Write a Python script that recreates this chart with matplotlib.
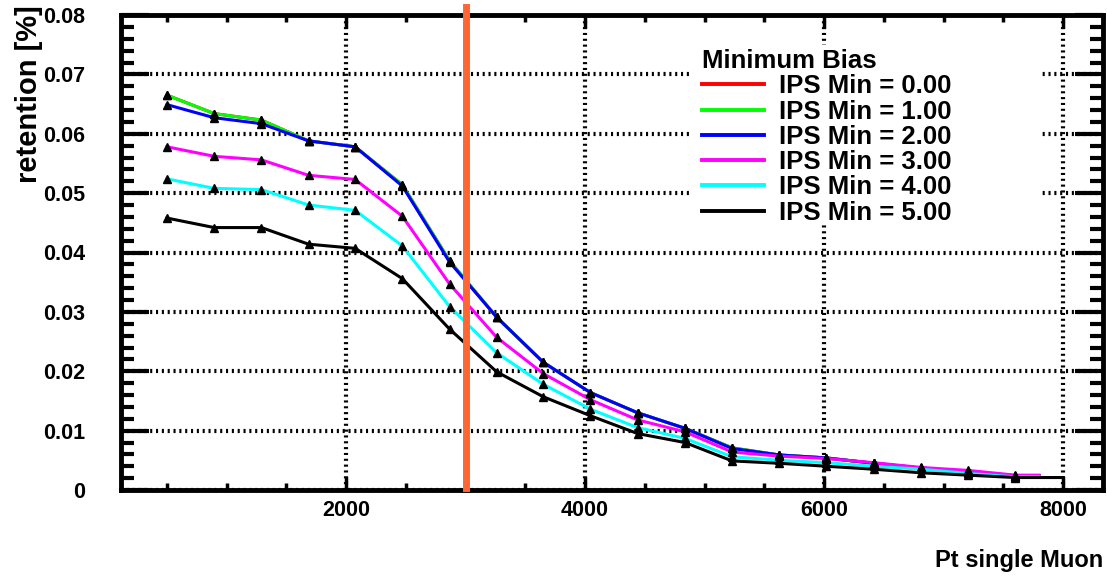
import matplotlib
matplotlib.use("Agg")
import matplotlib.pyplot as plt
from matplotlib.patches import Rectangle
from matplotlib.ticker import MultipleLocator

plt.rcParams['font.family'] = ['Liberation Sans', 'DejaVu Sans']
plt.rcParams['font.weight'] = 'bold'

# bin centres of the Pt scan
pt = [500, 895, 1290, 1685, 2075, 2470, 2865, 3260, 3650, 4045,
      4440, 4835, 5230, 5625, 6020, 6415, 6810, 7205, 7600]

ips_labels = ["IPS Min = 0.00", "IPS Min = 1.00", "IPS Min = 2.00",
              "IPS Min = 3.00", "IPS Min = 4.00", "IPS Min = 5.00"]
ips_colors = ["#ff0000", "#00ff00", "#0000ff", "#ff00ff", "#00ffff", "#000000"]

ips0 = [0.0665, 0.0634, 0.0623, 0.0588, 0.0578, 0.0514, 0.0386, 0.0291, 0.0215, 0.0164,
        0.0130, 0.0104, 0.0071, 0.0059, 0.0054, 0.0045, 0.0037, 0.0031, 0.0024]
ips1 = [0.0665, 0.0634, 0.0623, 0.0588, 0.0578, 0.0514, 0.0386, 0.0291, 0.0215, 0.0164,
        0.0130, 0.0104, 0.0071, 0.0059, 0.0054, 0.0045, 0.0037, 0.0031, 0.0024]
ips2 = [0.0649, 0.0627, 0.0617, 0.0588, 0.0578, 0.0512, 0.0384, 0.0291, 0.0215, 0.0164,
        0.0130, 0.0104, 0.0070, 0.0059, 0.0054, 0.0045, 0.0037, 0.0031, 0.0024]
ips3 = [0.0578, 0.0562, 0.0556, 0.0530, 0.0523, 0.0461, 0.0347, 0.0257, 0.0196, 0.0152,
        0.0118, 0.0098, 0.0064, 0.0057, 0.0053, 0.0046, 0.0038, 0.0033, 0.0025]
ips4 = [0.0524, 0.0508, 0.0506, 0.0480, 0.0471, 0.0411, 0.0309, 0.0231, 0.0178, 0.0136,
        0.0105, 0.0087, 0.0056, 0.0050, 0.0046, 0.0040, 0.0035, 0.0028, 0.0022]
ips5 = [0.0458, 0.0442, 0.0442, 0.0414, 0.0407, 0.0356, 0.0271, 0.0199, 0.0157, 0.0125,
        0.0095, 0.0080, 0.0049, 0.0045, 0.0040, 0.0035, 0.0029, 0.0025, 0.0021]
series = [ips0, ips1, ips2, ips3, ips4, ips5]

# where each curve stops on the right (last bin edge)
tail_end = [7800, 7800, 7800, 7800, 7800, 8000]

pt_cut = 3000

fig = plt.figure(figsize=(11.07, 5.79), dpi=100)
ax = fig.add_axes([121 / 1107, 1 - 490 / 579, (1103 - 121) / 1107, (490 - 15) / 579])

for vals, col, lab, xe in zip(series, ips_colors, ips_labels, tail_end):
    ax.plot(pt + [xe], vals + [vals[-1]], color=col, lw=2.2, label=lab, zorder=3)
    ax.plot(pt, vals, ls="none", marker="^", ms=6, color="black", zorder=4)

ax.axvline(pt_cut, ymin=0.004, ymax=1.016, color="#ff6633", lw=5, clip_on=False, zorder=10)

ax.set_xlim(115, 8335)
ax.set_ylim(0, 0.08)
ax.xaxis.set_major_locator(MultipleLocator(2000))
ax.xaxis.set_minor_locator(MultipleLocator(500))
ax.yaxis.set_major_locator(MultipleLocator(0.01))
ax.yaxis.set_minor_locator(MultipleLocator(0.002))
ax.set_yticks([0, 0.01, 0.02, 0.03, 0.04, 0.05, 0.06, 0.07, 0.08],
              ["0", "0.01", "0.02", "0.03", "0.04", "0.05", "0.06", "0.07", "0.08"])

ax.grid(True, which="major", color="black", lw=3, ls=(0, (0.5, 0.9)))

for s in ax.spines.values():
    s.set_linewidth(3.5)
    s.set_zorder(6)

ax.tick_params(axis="both", which="both", direction="in", top=True, right=True, color="black")
ax.tick_params(axis="y", which="major", length=20, width=3, pad=26, labelsize=15.5)
ax.tick_params(axis="y", which="minor", length=9.5, width=3)
ax.tick_params(axis="x", which="major", length=9.5, width=2.5, pad=7, labelsize=15.5)
ax.tick_params(axis="x", which="minor", length=5, width=2.5)

fig.text(29 / 1107, 1 - 5 / 579, "retention [%]", rotation=90, ha="center", va="top",
         fontsize=21, fontweight="bold")
fig.text(1103 / 1107, 1 - 560 / 579, "Pt single Muon", ha="right", va="center",
         fontsize=17, fontweight="bold")

# white box behind the legend hides the grid there
ax.add_patch(Rectangle((0.579, 0.558), 0.357, 0.379, transform=ax.transAxes,
                       facecolor="white", edgecolor="none", zorder=2))

leg = ax.legend(loc="upper left", bbox_to_anchor=(702 / 1107, 1 - 49 / 579),
                bbox_transform=fig.transFigure, frameon=False, title="Minimum Bias",
                fontsize=18.5, title_fontsize=18.5, handlelength=2.4, handletextpad=0.6,
                labelspacing=0.05, borderpad=0, borderaxespad=0, alignment="left")
leg.get_title().set_fontweight("bold")
for line in leg.get_lines():
    line.set_linewidth(2.8)

fig.savefig("out.png", dpi=100)
